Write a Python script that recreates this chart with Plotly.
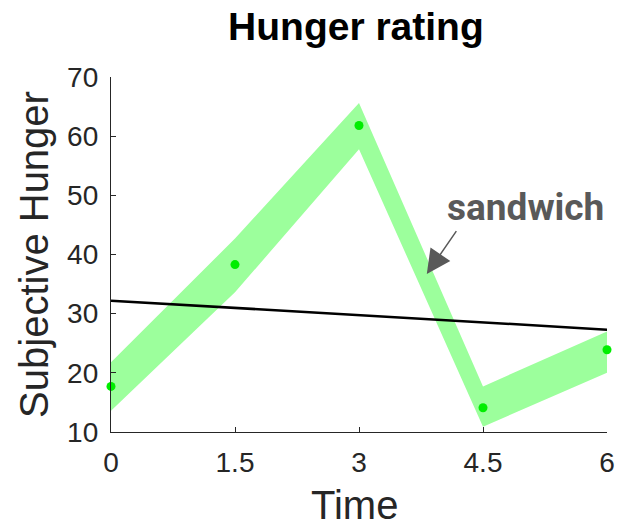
import plotly.graph_objects as go

time = [0, 1.5, 3, 4.5, 6]
hunger_mean = [17.7, 38.3, 61.8, 14.1, 23.9]
band_upper = [21.8, 42.7, 65.6, 17.7, 27.0]
band_lower = [13.6, 33.6, 57.8, 10.9, 20.0]
trend_x = [0, 6]
trend_y = [32.2, 27.3]
x_ticks = [0, 1.5, 3, 4.5, 6]
x_tick_labels = ["0", "1.5", "3", "4.5", "6"]
y_ticks = [10, 20, 30, 40, 50, 60, 70]

fig = go.Figure()
fig.add_trace(go.Scatter(x=time, y=band_upper, mode="lines", line=dict(width=0, color="#9cff9c"),
                         showlegend=False, hoverinfo="skip"))
fig.add_trace(go.Scatter(x=time, y=band_lower, mode="lines", line=dict(width=0, color="#9cff9c"),
                         fill="tonexty", fillcolor="#9cff9c", showlegend=False, hoverinfo="skip"))
fig.add_trace(go.Scatter(x=trend_x, y=trend_y, mode="lines", line=dict(color="black", width=2.5),
                         showlegend=False))
fig.add_trace(go.Scatter(x=time, y=hunger_mean, mode="markers",
                         marker=dict(color="#00ee00", size=9), showlegend=False, cliponaxis=False))

fig.add_annotation(x=3.82, y=36.7, ax=4.19, ay=44.2, axref="x", ayref="y", text="",
                   showarrow=True, arrowhead=2, arrowsize=3.2, arrowwidth=1.5, arrowcolor="#595959")
fig.add_annotation(x=5.01, y=48.0, text="<b>sandwich</b>", showarrow=False,
                   font=dict(family="Roboto", size=37, color="#595959"))
# x-axis title as an annotation so it can sit lower than the margin constraint allows
fig.add_annotation(x=0.5, y=0, xref="x domain", yref="y domain", text="Time", showarrow=False,
                   xanchor="center", yanchor="middle", xshift=-5, yshift=-73,
                   font=dict(family="Liberation Sans, Arial", size=40, color="#262626"))

axis_common = dict(showline=True, linecolor="#262626", linewidth=1.3, ticks="inside", ticklen=5,
                   tickcolor="#262626", showgrid=False, zeroline=False, mirror=False, automargin=False,
                   ticklabeloverflow="allow",
                   tickfont=dict(family="Liberation Sans, Arial", size=28, color="#262626"))
fig.update_xaxes(range=[0, 6], tickvals=x_ticks, ticktext=x_tick_labels, ticklabelstandoff=5,
                 **axis_common)
fig.update_yaxes(range=[10, 70], tickvals=y_ticks, ticklabelstandoff=6,
                 title=dict(text="Subjective Hunger", font=dict(family="Liberation Sans, Arial", size=40, color="#262626"),
                            standoff=6), **axis_common)

fig.update_layout(
    width=619, height=526,
    margin=dict(l=111, r=12, t=77, b=94),
    plot_bgcolor="white", paper_bgcolor="white",
    title=dict(text="<b>Hunger rating</b>", x=0.575, xanchor="center", y=0.9506, yanchor="middle",
               font=dict(family="Liberation Sans, Arial", size=39, color="black")),
)
fig.write_html("out.html", config={"displayModeBar": False},
               post_script="document.body.style.margin='0';document.body.style.overflow='hidden';")
